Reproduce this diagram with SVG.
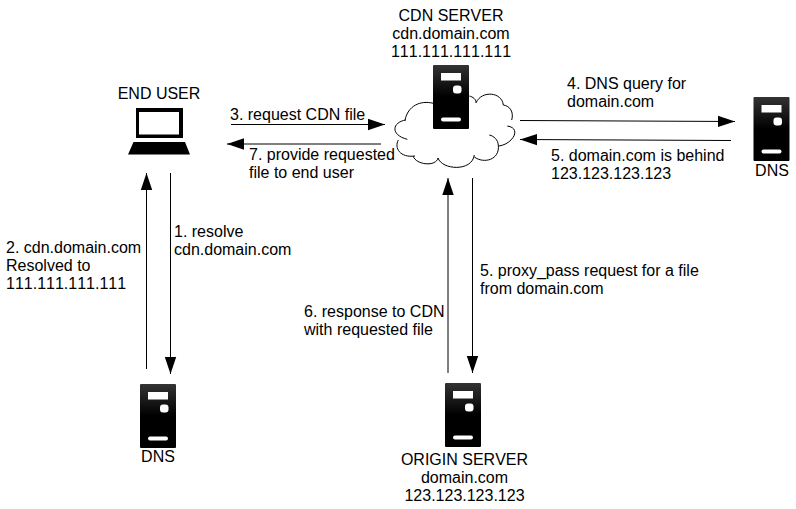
<svg xmlns="http://www.w3.org/2000/svg" width="796" height="509" viewBox="0 0 796 509">
<style>
text{font-family:"Liberation Sans",Arial,sans-serif;font-size:16px;fill:#000;font-kerning:none}
.m{text-anchor:middle}
.c{fill:none;stroke:#000;stroke-width:1}
.w{fill:#fff}
</style>
<defs>
<linearGradient id="g" x1="0" y1="0" x2="0" y2="1"><stop offset="0" stop-color="#333"/><stop offset="0.5" stop-color="#000"/><stop offset="1" stop-color="#000"/></linearGradient>
<marker id="a" markerUnits="userSpaceOnUse" markerWidth="18" markerHeight="14" refX="17" refY="7" orient="auto"><path d="M0 1.300L17 7L0 12.700Z" fill="#000"/></marker>
<g id="srv"><rect width="36" height="64" rx="1" fill="url(#g)"/><rect x="8" y="8" width="20" height="7.500" class="w"/><rect x="20" y="20.500" width="8.500" height="8" rx="3" class="w"/><rect x="8" y="52.500" width="20" height="4" rx="2" class="w"/></g>
</defs>
<g id="connectors" class="c">
<path class="c" d="M231 124.500H385" marker-end="url(#a)"/>
<path class="c" d="M381 144H227" marker-end="url(#a)"/>
<path class="c" d="M520 120.500L735 121.500" marker-end="url(#a)"/>
<path class="c" d="M731 140.500L520 139.500" marker-end="url(#a)"/>
<path class="c" d="M170.500 173V374" marker-end="url(#a)"/>
<path class="c" d="M146.500 369V173" marker-end="url(#a)"/>
<path class="c" d="M472.500 178V373" marker-end="url(#a)"/>
<path class="c" d="M448 373V178" marker-end="url(#a)"/>
</g>
<g id="cdn-server">
<path class="c" d="M433.300 103.300C420 100 408 106 405 120M406 120C392 122 390 135 407.300 139.300M398.300 140C394 148 400 158 415 156M413 156C416 165 436 167 438 158M438 158C442 170 472 172 474.300 155M474.300 157C484 164 500 160 498.300 145C498 140 494 136 489.300 135M499 146C513 144 522 128 507.300 126M511.700 120C514 112 510 106 503.300 105C502 92 482 90 476 102.700M469.300 96C473 97 476 99 476 102.700"/>
<use href="#srv" x="433" y="65"/>
<text class="m" x="451" y="21">CDN SERVER</text>
<text class="m" x="451" y="39">cdn.domain.com</text>
<text class="m" x="451" y="57">111.111.111.111</text>
</g>
<g id="end-user">
<rect x="136" y="108" width="47" height="30" fill="#000"/>
<rect x="139" y="112" width="40" height="22.500" class="w"/>
<path d="M133.500 142H185L190 154.500H128Z" fill="#000"/>
<text class="m" x="159" y="99">END USER</text>
</g>
<g id="dns-right">
<use href="#srv" x="753.500" y="97"/>
<text class="m" x="772" y="176">DNS</text>
</g>
<g id="dns-left">
<use href="#srv" x="140" y="384"/>
<text class="m" x="158" y="462">DNS</text>
</g>
<g id="origin-server">
<use href="#srv" x="445" y="383"/>
<text class="m" x="464.500" y="465">ORIGIN SERVER</text>
<text class="m" x="464.500" y="483">domain.com</text>
<text class="m" x="464.500" y="501">123.123.123.123</text>
</g>
<g id="labels">
<text x="230" y="120">3. request CDN file</text>
<text x="249" y="160">7. provide requested</text>
<text x="249" y="178">file to end user</text>
<text x="567" y="89">4. DNS query for</text>
<text x="567" y="107">domain.com</text>
<text x="551" y="161">5. domain.com is behind</text>
<text x="551" y="179">123.123.123.123</text>
<text x="174" y="237">1. resolve</text>
<text x="174" y="255">cdn.domain.com</text>
<text x="6" y="253">2. cdn.domain.com</text>
<text x="6" y="271">Resolved to</text>
<text x="6" y="289">111.111.111.111</text>
<text x="480" y="276">5. proxy_pass request for a file</text>
<text x="480" y="294">from domain.com</text>
<text x="304" y="317">6. response to CDN</text>
<text x="304" y="335">with requested file</text>
</g>
</svg>
